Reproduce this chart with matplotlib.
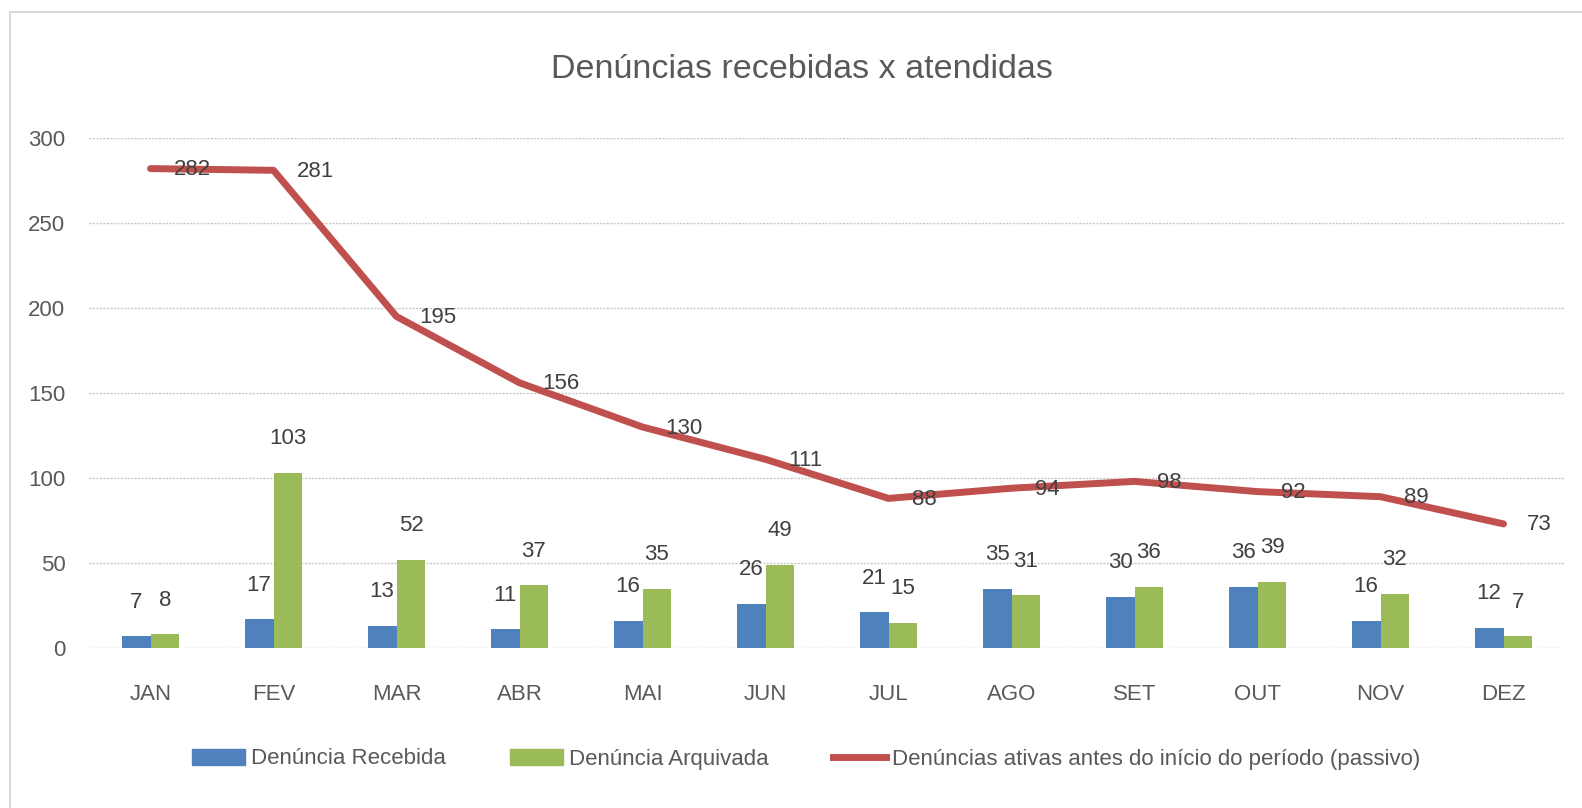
import matplotlib
matplotlib.use('Agg')
import matplotlib.pyplot as plt
import numpy as np
from matplotlib.patches import Rectangle, Patch
from matplotlib.lines import Line2D

plt.rcParams['font.family'] = ['Liberation Sans', 'DejaVu Sans']

# data
months = ['JAN', 'FEV', 'MAR', 'ABR', 'MAI', 'JUN', 'JUL', 'AGO', 'SET', 'OUT', 'NOV', 'DEZ']
recebida = [7, 17, 13, 11, 16, 26, 21, 35, 30, 36, 16, 12]
arquivada = [8, 103, 52, 37, 35, 49, 15, 31, 36, 39, 32, 7]
passivo = [282, 281, 195, 156, 130, 111, 88, 94, 98, 92, 89, 73]

blue = '#4F81BD'
green = '#9BBB59'
red = '#C0504D'
txt = '#404040'
tick_col = '#595959'
fs = 16

W, H = 1582, 808
fig = plt.figure(figsize=(W / 100, H / 100), dpi=100)
fig.patch.set_facecolor('white')

# chart area border
fig.add_artist(Rectangle((10 / W, -0.01), 1.02, 1 - 12 / H + 0.01, transform=fig.transFigure,
                         fill=False, edgecolor='#d9d9d9', lw=1.5))

ax = fig.add_axes([89 / W, 1 - 648 / H, (1565 - 89) / W, (648 - 138) / H])
x = np.arange(len(months))
bw = 0.235

ax.bar(x - bw / 2, recebida, bw, color=blue, zorder=2)
ax.bar(x + bw / 2, arquivada, bw, color=green, zorder=2)
ax.plot(x, passivo, color=red, lw=5, solid_capstyle='round', solid_joinstyle='round', zorder=3)

for xi, v in zip(x - bw / 2, recebida):
    ax.annotate(str(v), (xi, v), xytext=(0, 34), textcoords='offset pixels',
                ha='center', va='center', fontsize=fs, color=txt)
for xi, v in zip(x + bw / 2, arquivada):
    ax.annotate(str(v), (xi, v), xytext=(0, 34), textcoords='offset pixels',
                ha='center', va='center', fontsize=fs, color=txt)
for xi, v in zip(x, passivo):
    ax.annotate(str(v), (xi, v), xytext=(23, -1), textcoords='offset pixels',
                ha='left', va='center', fontsize=fs, color=txt, zorder=4)

ax.set_xlim(-0.5, len(months) - 0.5)
ax.set_ylim(0, 300)
ax.set_yticks([0, 50, 100, 150, 200, 250, 300])
ax.set_xticks(x)
ax.set_xticklabels(months)
ax.tick_params(axis='both', length=0, labelsize=fs, colors=tick_col)
ax.tick_params(axis='y', pad=17)
ax.tick_params(axis='x', pad=26)
for s in ax.spines.values():
    s.set_visible(False)
ax.yaxis.grid(True, color='#c8c8c8', lw=1, ls=(0, (1.5, 1)), zorder=0)
ax.set_axisbelow(True)

fig.text(802 / W, 1 - 69 / H, 'Denúncias recebidas x atendidas', ha='center', va='center',
         fontsize=24.5, color=tick_col)

handles = [Patch(color=blue), Patch(color=green), Line2D([0], [0], color=red, lw=5)]
labels = ['Denúncia Recebida', 'Denúncia Arquivada',
          'Denúncias ativas antes do início do período (passivo)']
fig.legend(handles, labels, loc='center', bbox_to_anchor=(806 / W, 1 - 759 / H), ncol=3,
           frameon=False, fontsize=fs, labelcolor=tick_col, handlelength=2.4,
           handletextpad=0.25, columnspacing=2.9)

fig.savefig('out.png', dpi=100, facecolor='white')
